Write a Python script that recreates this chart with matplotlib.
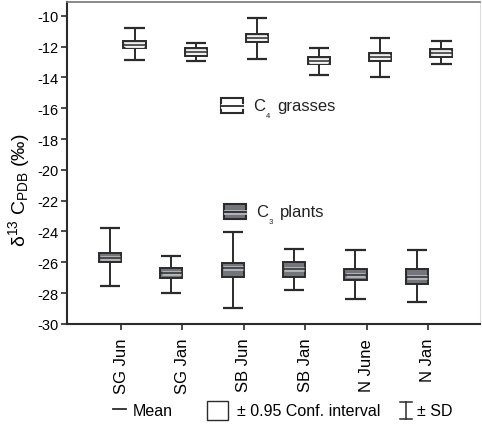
import numpy as np
import matplotlib
matplotlib.use('Agg')
import matplotlib.pyplot as plt
from matplotlib.patches import Rectangle
from matplotlib.lines import Line2D

plt.rcParams['font.family'] = ['Liberation Sans', 'DejaVu Sans']
plt.rcParams['mathtext.default'] = 'regular'

# --- data ---
groups = ['SG Jun', 'SG Jan', 'SB Jun', 'SB Jan', 'N June', 'N Jan']

c4_mean = [-11.88, -12.38, -11.47, -12.92, -12.68, -12.42]
c4_ci_lo = [-12.12, -12.64, -11.73, -13.14, -12.94, -12.68]
c4_ci_hi = [-11.62, -12.12, -11.21, -12.70, -12.42, -12.16]
c4_sd_lo = [-12.86, -12.94, -12.81, -13.83, -13.96, -13.16]
c4_sd_hi = [-10.80, -11.77, -10.15, -12.10, -11.47, -11.64]

c3_mean = [-25.69, -26.71, -26.40, -26.42, -26.82, -26.95]
c3_ci_lo = [-25.97, -27.00, -26.93, -26.94, -27.18, -27.44]
c3_ci_hi = [-25.41, -26.40, -26.06, -25.99, -26.45, -26.45]
c3_sd_lo = [-27.57, -27.96, -28.94, -27.81, -28.40, -28.59]
c3_sd_hi = [-23.77, -25.58, -24.06, -25.13, -25.21, -25.21]

dark = '#2b2b2b'
c4_fill, c4_band = '#d6d6d6', '#f2f2f2'
c3_fill, c3_band = '#74747c', '#b4b4bc'

fig = plt.figure(figsize=(4.82, 4.27), dpi=100)
ax = fig.add_axes([0.139, 0.239, 0.857, 0.754])

x = np.arange(1, len(groups) + 1)


def draw_boxes(pos, mean, lo, hi, sd_lo, sd_hi, fill, band):
    mean, lo, hi = np.array(mean), np.array(lo), np.array(hi)
    sd_lo, sd_hi = np.array(sd_lo), np.array(sd_hi)
    w, cw = 0.36, 0.33
    ax.vlines(pos, sd_lo, lo, color=dark, lw=1.4, zorder=2)
    ax.vlines(pos, hi, sd_hi, color=dark, lw=1.4, zorder=2)
    ax.hlines(sd_lo, pos - cw / 2, pos + cw / 2, color=dark, lw=1.6, zorder=2)
    ax.hlines(sd_hi, pos - cw / 2, pos + cw / 2, color=dark, lw=1.6, zorder=2)
    ax.bar(pos, hi - lo, bottom=lo, width=w, color=fill, edgecolor=dark,
           linewidth=1.4, zorder=3)
    ax.hlines(mean, pos - w / 2 + 0.02, pos + w / 2 - 0.02, color=band, lw=3.5, zorder=4)
    ax.hlines(mean, pos - w / 2, pos + w / 2, color=dark, lw=1.1, zorder=5)


draw_boxes(x + 0.22, c4_mean, c4_ci_lo, c4_ci_hi, c4_sd_lo, c4_sd_hi, c4_fill, c4_band)
draw_boxes(x - 0.18, c3_mean, c3_ci_lo, c3_ci_hi, c3_sd_lo, c3_sd_hi, c3_fill, c3_band)

ax.set_xlim(0.12, 6.85)
ax.set_ylim(-30, -9.11)
ax.set_yticks(np.arange(-30, -9, 2))
ax.set_yticklabels([str(v) for v in range(-30, -9, 2)], fontsize=10.5)
ax.set_xticks(x)
ax.set_xticklabels(groups, rotation=90, fontsize=12)
ax.tick_params(direction='out', length=4, width=1.2, color=dark, pad=2)
ax.tick_params(axis='x', pad=6)
for s in ['left', 'bottom']:
    ax.spines[s].set_linewidth(1.5)
    ax.spines[s].set_color(dark)
ax.spines['top'].set_color('#777777')
ax.spines['top'].set_linewidth(1.2)
ax.spines['right'].set_color('#dddddd')
ax.spines['right'].set_linewidth(0.8)

ax.set_ylabel(r'δ$^{13}$ C$_{PDB}$ (‰)', fontsize=14)
ax.yaxis.set_label_coords(-0.085, 0.42)


# in-plot labels
def legend_entry(xa, ya, fill, band, sub, word):
    bw, bh = 0.053, 0.046
    r = Rectangle((xa, ya), bw, bh, transform=ax.transAxes, facecolor=fill,
                  edgecolor=dark, lw=1.5, zorder=6)
    ax.add_patch(r)
    ax.add_line(Line2D([xa + 0.004, xa + bw - 0.004], [ya + bh / 2] * 2,
                       transform=ax.transAxes, color=band, lw=3.5, zorder=7))
    ax.add_line(Line2D([xa, xa + bw], [ya + bh / 2] * 2, transform=ax.transAxes,
                       color=dark, lw=1.3, zorder=8))
    tx = xa + 0.078
    ty = ya + bh / 2
    ax.text(tx, ty, 'C', transform=ax.transAxes, fontsize=12, va='center',
            ha='left', color='#222222')
    ax.text(tx + 0.030, ty - 0.030, sub, transform=ax.transAxes, fontsize=5.5,
            va='center', ha='left', color='#222222')
    ax.text(tx + 0.058, ty, word, transform=ax.transAxes, fontsize=12, va='center',
            ha='left', color='#222222')


legend_entry(0.373, 0.655, 'white', 'white', '4', 'grasses')
legend_entry(0.380, 0.326, c3_fill, c3_band, '3', 'plants')

# bottom key
fy = 1 - 412 / 427
fig.add_artist(Line2D([113 / 482, 126 / 482], [fy + 0.004] * 2, color=dark, lw=1.3))
fig.text(133 / 482, fy, 'Mean', fontsize=11.5, va='center', ha='left')
fig.add_artist(Rectangle((207 / 482, fy - 0.022), 21 / 482, 0.046, facecolor='white',
                         edgecolor=dark, lw=1.0))
fig.text(237 / 482, fy, '± 0.95 Conf. interval', fontsize=11.5, va='center', ha='left')
sx = 406 / 482
fig.add_artist(Line2D([sx, sx], [fy - 0.018, fy + 0.020], color=dark, lw=1.1))
fig.add_artist(Line2D([sx - 0.013, sx + 0.013], [fy + 0.020] * 2, color=dark, lw=1.1))
fig.add_artist(Line2D([sx - 0.013, sx + 0.013], [fy - 0.018] * 2, color=dark, lw=1.1))
fig.text(417 / 482, fy, '± SD', fontsize=11.5, va='center', ha='left')

fig.savefig('out.png', dpi=100)
